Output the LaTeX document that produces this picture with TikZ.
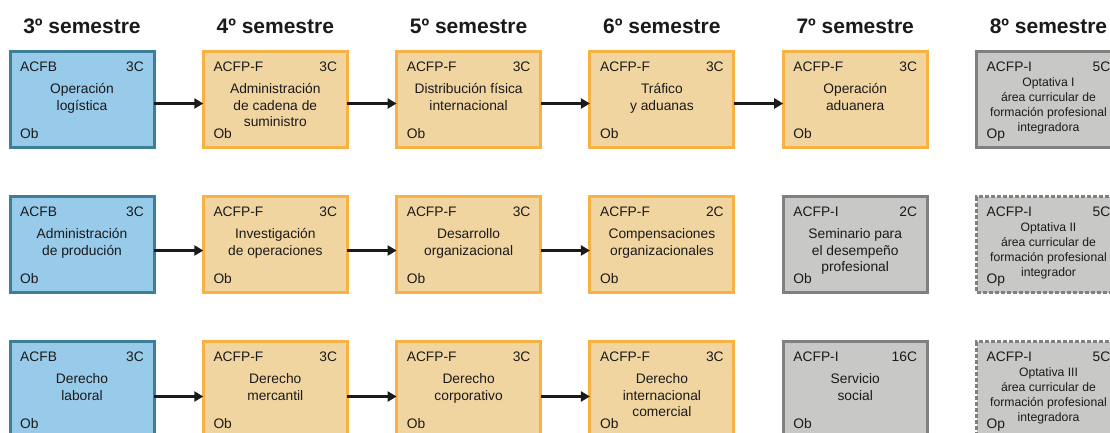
\documentclass[tikz,border=0pt]{standalone}
\usepackage{fontspec}
\setmainfont{Liberation Sans}
\usepackage{tikz}
\usetikzlibrary{arrows.meta, positioning}

\definecolor{azul}{HTML}{98CAEA}
\definecolor{azulborde}{HTML}{3D7E99}
\definecolor{naranja}{HTML}{F1D5A1}
\definecolor{naranjaborde}{HTML}{F8B243}
\definecolor{gris}{HTML}{C8C9C7}
\definecolor{grisborde}{HTML}{808080}
\definecolor{texto}{HTML}{1A1A1A}

\begin{document}
\begin{tikzpicture}[x=1pt, y=1pt, node distance=49pt and 49.3pt, >=Stealth,
  semestre/.style={inner sep=0pt, font=\bfseries\fontsize{21}{25}\selectfont, text=texto},
  curso/.style={draw, line width=3pt, minimum width=144pt, minimum height=96pt,
    inner sep=0pt, outer sep=0pt},
  basica/.style={curso, fill=azul, draw=azulborde},
  formacion/.style={curso, fill=naranja, draw=naranjaborde},
  integral/.style={curso, fill=gris, draw=grisborde},
  optativa/.style={integral, dash pattern=on 4pt off 2pt},
  letra/.style={inner sep=0pt, font=\fontsize{13.8}{16.5}\selectfont, text=texto},
  clave/.style={letra, anchor=north west, xshift=10pt, yshift=-10pt},
  creditos/.style={letra, anchor=north east, xshift=-10pt, yshift=-10pt},
  tipo/.style={letra, anchor=south west, text depth=0pt, xshift=10pt, yshift=9pt},
  titulo/.style={letra, anchor=north, align=center, yshift=-32pt,
    execute at begin node={\rule{0pt}{11pt}}},
  titulochico/.style={letra, anchor=north, align=center, yshift=-26pt,
    font=\fontsize{12.2}{15}\selectfont, execute at begin node={\rule{0pt}{10pt}}},
  datos/.style n args={3}{label={[clave]north west:#1}, label={[creditos]north east:#2},
    label={[tipo]south west:#3}},
  tit/.style={label={[titulo]north:#1}},
  titop/.style={label={[titulochico]north:#1}},
  flecha/.style={-{Triangle[length=9pt, width=10pt]}, line width=2.5pt, draw=texto}]
  \useasboundingbox (0,0) rectangle (1110,-432);

  % fila a
  \node[basica, datos={ACFB}{3C}{Ob}, tit={Operación\\logística}] (a3) at (82,-99.5) {};
  \node[formacion, datos={ACFP-F}{3C}{Ob}, tit={Administración\\de cadena de\\suministro}, right=of a3] (a4) {};
  \node[formacion, datos={ACFP-F}{3C}{Ob}, tit={Distribución física\\internacional}, right=of a4] (a5) {};
  \node[formacion, datos={ACFP-F}{3C}{Ob}, tit={Tráfico\\y aduanas}, right=of a5] (a6) {};
  \node[formacion, datos={ACFP-F}{3C}{Ob}, tit={Operación\\aduanera}, right=of a6] (a7) {};
  \node[integral, datos={ACFP-I}{5C}{Op}, titop={Optativa I\\área curricular de\\formación profesional\\integradora}, right=of a7] (a8) {};

  % fila b
  \node[basica, datos={ACFB}{3C}{Ob}, tit={Administración\\de produción}, below=of a3] (b3) {};
  \node[formacion, datos={ACFP-F}{3C}{Ob}, tit={Investigación\\de operaciones}, right=of b3] (b4) {};
  \node[formacion, datos={ACFP-F}{3C}{Ob}, tit={Desarrollo\\organizacional}, right=of b4] (b5) {};
  \node[formacion, datos={ACFP-F}{2C}{Ob}, tit={Compensaciones\\organizacionales}, right=of b5] (b6) {};
  \node[integral, datos={ACFP-I}{2C}{Ob}, tit={Seminario para\\el desempeño\\profesional}, right=of b6] (b7) {};
  \node[optativa, datos={ACFP-I}{5C}{Op}, titop={Optativa II\\área curricular de\\formación profesional\\integrador}, right=of b7] (b8) {};

  % fila c
  \node[basica, datos={ACFB}{3C}{Ob}, tit={Derecho\\laboral}, below=of b3] (c3) {};
  \node[formacion, datos={ACFP-F}{3C}{Ob}, tit={Derecho\\mercantil}, right=of c3] (c4) {};
  \node[formacion, datos={ACFP-F}{3C}{Ob}, tit={Derecho\\corporativo}, right=of c4] (c5) {};
  \node[formacion, datos={ACFP-F}{3C}{Ob}, tit={Derecho\\internacional\\comercial}, right=of c5] (c6) {};
  \node[integral, datos={ACFP-I}{16C}{Ob}, tit={Servicio\\social}, right=of c6] (c7) {};
  \node[optativa, datos={ACFP-I}{5C}{Op}, titop={Optativa III\\área curricular de\\formación profesional\\integradora}, right=of c7] (c8) {};

  % encabezados
  \foreach \s in {3,...,8}
    \node[semestre, above=18pt of a\s] (h\s) {\s º semestre};

  % flechas
  \foreach \u/\v in {a3/a4, a4/a5, a5/a6, a6/a7}
    \draw[flecha] ([yshift=-4pt]\u.east) -- ([yshift=-4pt]\v.west);
  \foreach \u/\v in {b3/b4, b4/b5, b5/b6}
    \draw[flecha] ([yshift=-6pt]\u.east) -- ([yshift=-6pt]\v.west);
  \foreach \u/\v in {c3/c4, c4/c5, c5/c6}
    \draw[flecha] ([yshift=-7pt]\u.east) -- ([yshift=-7pt]\v.west);
\end{tikzpicture}
\end{document}
